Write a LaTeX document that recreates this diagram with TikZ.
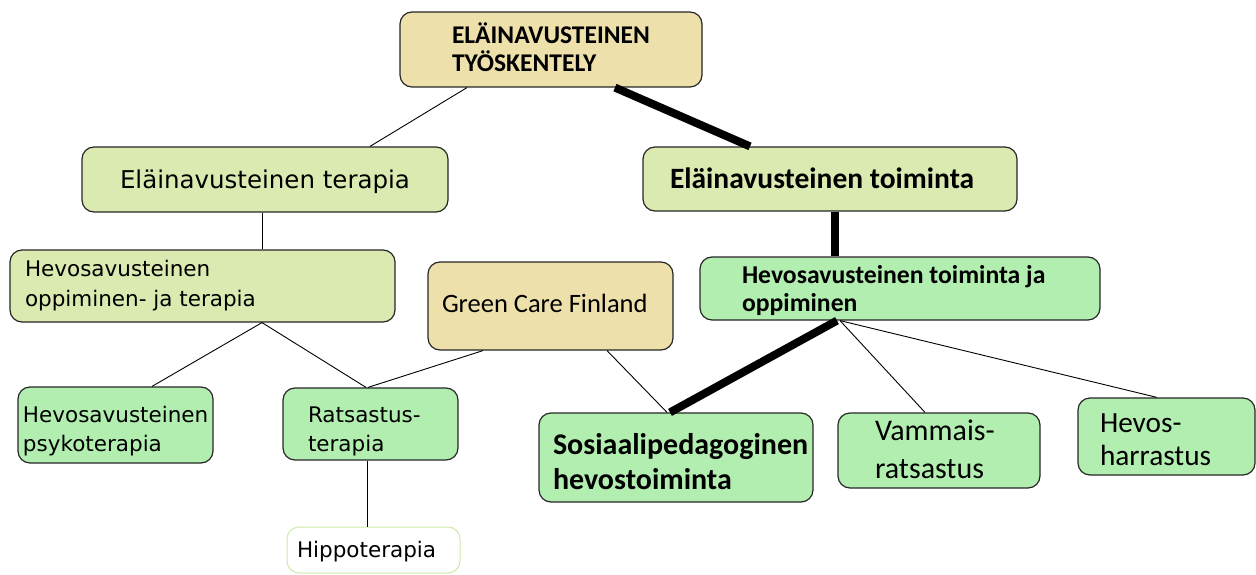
\documentclass[tikz,border=0pt]{standalone}
\usepackage{fontspec}
\newfontfamily\fcal{Carlito}
\newfontfamily\fdv{DejaVu Sans}
\definecolor{ctan}{HTML}{EEE0AA}
\definecolor{cpale}{HTML}{DAEAB1}
\definecolor{cgreen}{HTML}{B3EEB1}
\definecolor{chippo}{HTML}{CFE9A8}
% w h L B1 S text
\newcommand\bt[6]{\parbox[c][#2pt][t]{#1pt}{\baselineskip=#5pt\lineskiplimit=-1000pt\lineskip=0pt\leftskip=#3pt\rightskip=0pt plus 1fil\parfillskip=0pt plus 1fil\vspace*{\dimexpr#4pt-#5pt\relax}\prevdepth=0pt\relax\noindent #6}}
\tikzset{
  box/.style={draw=black!85, line width=1.2pt, rounded corners=12pt, inner sep=0pt, shape=rectangle},
  tanbox/.style={box, fill=ctan},
  palebox/.style={box, fill=cpale},
  greenbox/.style={box, fill=cgreen},
  hippobox/.style={box, draw=chippo, fill=white, line width=1pt},
  link/.style={draw=black, line width=0.9pt},
  heavylink/.style={draw=black, line width=8pt},
}
\begin{document}
\begin{tikzpicture}[x=1pt,y=-1pt]
\useasboundingbox (0,0) rectangle (1256,575);
% nodes
\node[tanbox, font=\fcal\bfseries\fontsize{25.5}{28}\selectfont] (top) at (551,49.5)
  {\bt{302}{75}{52}{31.3}{28.4}{ELÄINAVUSTEINEN\\TYÖSKENTELY}};
\node[palebox, font=\fdv\fontsize{24.5}{28}\selectfont] (terapia) at (265,179.5)
  {\bt{366}{65}{38}{41}{28}{Eläinavusteinen terapia}};
\node[palebox, font=\fcal\bfseries\fontsize{29.5}{32}\selectfont] (toiminta) at (830,179)
  {\bt{374}{64}{27}{41}{30}{Eläinavusteinen toiminta}};
\node[palebox, font=\fdv\fontsize{21.5}{25}\selectfont] (oppiminen) at (202.5,286)
  {\bt{385}{72}{15}{26.7}{30}{Hevosavusteinen\\oppiminen- ja terapia}};
\node[tanbox, font=\fcal\fontsize{26.5}{30}\selectfont] (greencare) at (550.5,306)
  {\bt{245}{88}{14}{50.7}{30}{Green Care Finland}};
\node[greenbox, font=\fcal\bfseries\fontsize{25.7}{28}\selectfont] (hto) at (900,288.5)
  {\bt{400}{63}{42}{26.3}{28.4}{Hevosavusteinen toiminta ja\\oppiminen}};
\node[greenbox, font=\fdv\fontsize{21.5}{25}\selectfont] (psyko) at (115.5,425)
  {\bt{195}{76}{5}{35.7}{29}{Hevosavusteinen\\psykoterapia}};
\node[greenbox, font=\fdv\fontsize{21.5}{25}\selectfont] (ratsastus) at (370.5,424)
  {\bt{175}{72}{25}{34.7}{29}{Ratsastus-\\terapia}};
\node[hippobox, font=\fdv\fontsize{21.5}{25}\selectfont] (hippo) at (373.5,550)
  {\bt{173}{46}{10}{30.3}{29}{Hippoterapia}};
\node[greenbox, font=\fcal\bfseries\fontsize{30}{34}\selectfont] (sosio) at (676,457.5)
  {\bt{274}{89}{14}{41}{35.7}{Sosiaalipedagoginen\\hevostoiminta}};
\node[greenbox, font=\fcal\fontsize{30}{34}\selectfont] (vammais) at (939,450.5)
  {\bt{202}{75}{37}{27}{38.3}{Vammais-\\ratsastus}};
\node[greenbox, font=\fcal\fontsize{29.3}{33}\selectfont] (harrastus) at (1166.5,436.5)
  {\bt{177}{77}{22}{34}{33.3}{Hevos-\\harrastus}};
% connectors
\draw[link] ([xshift=-84pt]top.south) -- ([xshift=105pt]terapia.north);
\draw[heavylink] ([xshift=64pt]top.south) -- ([xshift=-80pt]toiminta.north);
\draw[link] ([xshift=-3pt]terapia.south) -- ([xshift=59.5pt]oppiminen.north);
\draw[heavylink] ([xshift=5pt]toiminta.south) -- ([xshift=-65pt]hto.north);
\draw[link] ([xshift=59.5pt]oppiminen.south) -- ([xshift=36.5pt]psyko.north);
\draw[link] ([xshift=59.5pt]oppiminen.south) -- ([xshift=-4.5pt]ratsastus.north);
\draw[link] ([xshift=-67.5pt]greencare.south) -- ([xshift=-2.5pt]ratsastus.north);
\draw[link] ([xshift=-3.5pt]ratsastus.south) -- ([xshift=-6.5pt]hippo.north);
\draw[link] ([xshift=56.5pt]greencare.south) -- ([xshift=-9pt]sosio.north);
\draw[heavylink] ([xshift=-63pt]hto.south) -- ([xshift=-6pt]sosio.north);
\draw[link] ([xshift=-60pt]hto.south) -- ([xshift=-14pt]vammais.north);
\draw[link] ([xshift=-60pt]hto.south) -- ([xshift=-9.5pt]harrastus.north);
\end{tikzpicture}
\end{document}
